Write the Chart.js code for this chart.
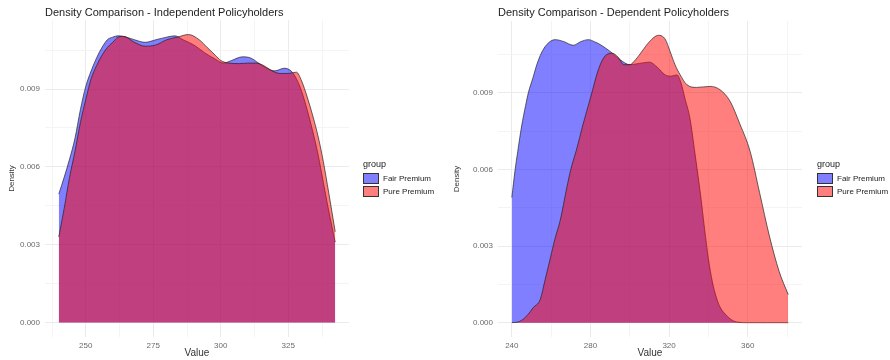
<!DOCTYPE html>
<html><head><meta charset="utf-8">
<script src="https://cdn.jsdelivr.net/npm/chart.js@4"></script>
<style>
body{margin:0;width:890px;height:360px;background:#fff;overflow:hidden;font-family:"Liberation Sans",Arial,sans-serif;position:relative}
canvas{position:absolute;top:0}
.title{position:absolute;top:6px;font-size:11px;color:#222;white-space:nowrap;line-height:13px}
.leg{position:absolute;top:159px;color:#222;white-space:nowrap}
.leg .lt{font-size:9px;line-height:11px;height:13px}
.leg .row{height:13px;display:flex;align-items:center;font-size:8px}
.leg .key{width:16px;height:11px;box-sizing:border-box;border:1px solid #333;margin-right:4px}
</style></head><body>
<canvas id="c1" width="445" height="360" style="left:0"></canvas>
<canvas id="c2" width="445" height="360" style="left:445px"></canvas>
<div class="title" style="left:45px">Density Comparison - Independent Policyholders</div>
<div class="title" style="left:498px">Density Comparison - Dependent Policyholders</div>
<div class="leg" style="left:363px"><div class="lt">group</div>
<div class="row"><span class="key" style="background:#7f7fff"></span>Fair Premium</div>
<div class="row"><span class="key" style="background:#ff7f7f"></span>Pure Premium</div></div>
<div class="leg" style="left:817px"><div class="lt">group</div>
<div class="row"><span class="key" style="background:#7f7fff"></span>Fair Premium</div>
<div class="row"><span class="key" style="background:#ff7f7f"></span>Pure Premium</div></div>
<script>
const groups = ["Fair Premium", "Pure Premium"];

// Independent policyholders
const indepFairX = [240,242,244,246,248,250,252,254,256,258,260,262,265,268,272,276,280,283,286,290,294,298,301,304,308,311,314,317,320,323.5,326,328,330,332,334,336,338,340,342.4];
const indepFairY = [0.00495,0.0056,0.0063,0.0071,0.0082,0.0091,0.0097,0.0102,0.0106,0.0109,0.0110,0.01105,0.0110,0.0109,0.0108,0.0109,0.0110,0.01105,0.0109,0.0107,0.0104,0.01015,0.0100,0.0101,0.01024,0.0102,0.0100,0.0098,0.0097,0.0098,0.0097,0.0094,0.0089,0.0082,0.0074,0.0065,0.0054,0.0043,0.0031];
const indepPureX = [240,242,244,246,248,250,252,254,256,258,260,262,264,268,272,276,280,284,288,292,295,298,300,303,307,310,313,316,319,322,325,328,330,332,334,336,338,340,342.4];
const indepPureY = [0.0033,0.0044,0.0056,0.0066,0.0077,0.0086,0.0094,0.0099,0.0103,0.0106,0.0108,0.0110,0.01103,0.0108,0.01065,0.0107,0.0109,0.0110,0.0111,0.0109,0.0106,0.0103,0.0101,0.0100,0.00998,0.0100,0.0100,0.0099,0.0097,0.0096,0.0096,0.00965,0.0093,0.0087,0.0080,0.0072,0.0062,0.0050,0.0035];
const indepXTicks = [250,275,300,325];
const indepYTicks = [0,0.003,0.006,0.009];

// Dependent policyholders
const depFairX = [240,241.7,243,245,247,248.4,250.8,252.7,255,257.8,262,266.2,271.3,275,279,282,284.9,290,295,300,305,310,314,318,321,324,326,328,330.6,333.2,336,338,340,342,344,346,349,352,355,360,370,380.6];
const depFairY = [0.0049,0.0060,0.0067,0.0077,0.0085,0.0090,0.0096,0.0101,0.01055,0.01089,0.01108,0.01101,0.01086,0.0110,0.01108,0.0110,0.01089,0.01062,0.0103,0.0101,0.01015,0.0102,0.0100,0.0097,0.00965,0.0097,0.0094,0.0088,0.0080,0.0066,0.0050,0.0037,0.0025,0.0016,0.0010,0.0006,0.0003,0.0001,0.00002,0,0,0];
const depPureX = [240,244,248,251,254.4,257,259.5,262,264.6,268,270,273,276,280,284,287,291,294,297,300,303,306,310,314.6,318,320.5,323,325.6,329,334,340.8,345.9,351,356.1,361.2,366,371,376,380.6];
const depPureY = [0,0.00005,0.0003,0.0006,0.0009,0.0017,0.0025,0.0033,0.0040,0.0053,0.0060,0.0068,0.0077,0.0088,0.0099,0.0104,0.01055,0.0104,0.0101,0.0101,0.0103,0.0106,0.0110,0.01125,0.0111,0.01062,0.0101,0.00971,0.00932,0.00921,0.00925,0.00912,0.00867,0.00776,0.00671,0.0051,0.0034,0.0020,0.0011];
const depXTicks = [240,280,320,360];
const depYTicks = [0,0.003,0.006,0.009];

function pts(xs, ys){ return xs.map((x,i)=>({x:x, y:ys[i]})); }

function makeChart(id, cfg){
  const majX = cfg.xTicks, majY = cfg.yTicks;
  const stepX = majX[1]-majX[0], stepY = majY[1]-majY[0];
  const isMajX = v => majX.some(t => Math.abs(t-v) < 1e-6);
  const isMajY = v => majY.some(t => Math.abs(t-v) < 1e-9);
  new Chart(document.getElementById(id), {
    type: 'line',
    data: { datasets: [
      { label: groups[1], data: pts(cfg.pureX, cfg.pureY), backgroundColor: 'rgba(255,0,0,0.5)', borderColor: 'rgba(30,30,30,0.85)', borderWidth: 0.8, fill: 'origin', pointRadius: 0, cubicInterpolationMode: 'monotone' },
      { label: groups[0], data: pts(cfg.fairX, cfg.fairY), backgroundColor: 'rgba(0,0,255,0.5)', borderColor: 'rgba(30,30,30,0.85)', borderWidth: 0.8, fill: 'origin', pointRadius: 0, cubicInterpolationMode: 'monotone' }
    ]},
    options: {
      responsive: false, animation: false, devicePixelRatio: 1,
      layout: { padding: cfg.padding },
      plugins: { legend: { display: false }, tooltip: { enabled: false } },
      scales: {
        x: {
          type: 'linear', min: cfg.xMin, max: cfg.xMax,
          afterBuildTicks: s => {
            const t = [];
            for (let v = majX[0] - stepX*2; v <= cfg.xMax; v += stepX/2) if (v >= cfg.xMin) t.push({value: v});
            s.ticks = t;
          },
          afterFit: s => { s.height = 23; },
          ticks: { autoSkip: false, maxRotation: 0, padding: 4, color: '#6a6a6a', font: { size: 8, family: '"Liberation Sans", Arial, sans-serif' },
            callback: v => isMajX(v) ? String(v) : '' },
          grid: { drawTicks: false, color: c => isMajX(c.tick.value) ? '#ebebeb' : '#f4f4f4', lineWidth: 1 },
          border: { display: false },
          title: { display: true, text: 'Value', color: '#333', font: { size: 10, family: '"Liberation Sans", Arial, sans-serif' }, padding: { top: 0, bottom: 1 } }
        },
        y: {
          min: cfg.yMin, max: cfg.yMax,
          afterBuildTicks: s => {
            const t = [];
            for (let v = 0; v <= cfg.yMax + 1e-9; v += stepY/2) t.push({value: +v.toFixed(5)});
            s.ticks = t;
          },
          afterFit: s => { s.width = cfg.yWidth; },
          ticks: { autoSkip: false, padding: 5, color: '#6a6a6a', font: { size: 8, family: '"Liberation Sans", Arial, sans-serif' },
            callback: v => isMajY(v) ? v.toFixed(3) : '' },
          grid: { drawTicks: false, color: c => isMajY(c.tick.value) ? '#ebebeb' : '#f4f4f4', lineWidth: 1 },
          border: { display: false },
          title: { display: true, text: 'Density', color: '#333', font: { size: 8, family: '"Liberation Sans", Arial, sans-serif' }, padding: { top: 7, bottom: 0 } }
        }
      }
    }
  });
}

makeChart('c1', { fairX: indepFairX, fairY: indepFairY, pureX: indepPureX, pureY: indepPureY,
  xTicks: indepXTicks, yTicks: indepYTicks, xMin: 234.9, xMax: 347.5, yMin: -0.000555, yMax: 0.01166,
  yWidth: 45, padding: { top: 20, right: 96, left: 0, bottom: 0 } });
makeChart('c2', { fairX: depFairX, fairY: depFairY, pureX: depPureX, pureY: depPureY,
  xTicks: depXTicks, yTicks: depYTicks, xMin: 232.97, xMax: 387.6, yMin: -0.00056, yMax: 0.01181,
  yWidth: 53, padding: { top: 21, right: 88, left: 0, bottom: 0 } });
</script>
</body></html>
